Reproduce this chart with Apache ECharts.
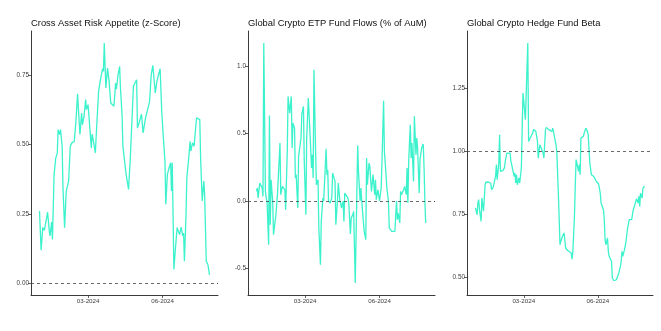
<!DOCTYPE html>
<html>
<head>
<meta charset="utf-8">
<script src="https://cdn.jsdelivr.net/npm/echarts@6/dist/echarts.min.js"></script>
<style>
html,body{margin:0;padding:0;background:#fff;}
#chart{width:661px;height:331px;}
</style>
</head>
<body>
<div id="chart"></div>
<script>
// Panel titles
const titles = ['Cross Asset Risk Appetite (z-Score)', 'Global Crypto ETP Fund Flows (% of AuM)', 'Global Crypto Hedge Fund Beta'];

// x tick labels (dates) and reference lines
const xTickDates = ['2024-03-01', '2024-06-01'];
const refLines = [0, 0, 1];

// y tick values per panel
const riskTicks = [0, 0.25, 0.5, 0.75];
const flowTicks = [-0.5, 0, 0.5, 1.0];
const betaTicks = [0.5, 0.75, 1.0, 1.25];

// Cross Asset Risk Appetite: days since 2024-01-01 and values
const riskDays = [0,2,4,6,8,10,12,13,15,16,18,20,22,23,25,26,28,29,31,33,35,36,38,40,43,45,47,48,50,52,53,55,57,58,60,62,64,65,67,69,71,73,75,76,78,79,80,82,84,86,88,90,92,94,95,97,99,100,102,103,105,107,109,110,112,114,116,118,120,121,123,126,128,129,131,133,136,138,140,143,145,147,149,151,153,155,156,158,160,162,163,164,166,168,170,172,173,175,177,178,179,181,182,184,186,187,189,191,192,194,196,198,199,201,203,204,206,208,210];
const riskValues = [0.26,0.118,0.20,0.19,0.196,0.256,0.19,0.17,0.22,0.157,0.39,0.45,0.47,0.554,0.536,0.554,0.494,0.344,0.20,0.33,0.356,0.368,0.494,0.506,0.512,0.584,0.683,0.632,0.536,0.614,0.572,0.602,0.662,0.626,0.644,0.642,0.488,0.538,0.506,0.47,0.584,0.692,0.728,0.746,0.774,0.764,0.867,0.704,0.776,0.728,0.65,0.647,0.638,0.722,0.70,0.752,0.782,0.704,0.606,0.494,0.488,0.392,0.356,0.338,0.44,0.572,0.71,0.722,0.734,0.56,0.578,0.61,0.542,0.56,0.596,0.62,0.656,0.752,0.786,0.686,0.728,0.752,0.774,0.62,0.524,0.44,0.284,0.392,0.416,0.434,0.332,0.434,0.049,0.127,0.20,0.202,0.175,0.202,0.17,0.18,0.079,0.248,0.38,0.44,0.512,0.476,0.506,0.494,0.53,0.596,0.602,0.59,0.452,0.296,0.368,0.32,0.079,0.067,0.029];

// Global Crypto ETP Fund Flows (% of AuM)
const flowDays = [0,1,2,4,5,7,8,9,11,12,13,15,16,17,18,20,21,22,24,26,29,30,32,33,35,36,38,39,41,43,44,45,47,48,49,51,52,53,55,56,58,59,61,62,64,66,68,69,70,71,73,74,76,77,79,80,82,83,84,86,87,88,89,91,93,94,95,97,98,100,101,103,104,105,107,108,109,111,113,114,116,117,119,120,122,125,126,128,129,130,132,133,135,136,137,139,140,141,142,144,145,146,147,148,150,151,152,154,155,157,158,160,161,163,164,166,167,169,171,172,173,174,175,177,178,179,181,182,183,185,186,187,188,190,191,192,194,195,197,198,199,201,202,204,206,207,208,209];
const flowValues = [0.072,0.097,0.022,0.134,0.121,0.097,0.035,1.173,0.072,0.022,0.0,-0.324,0.636,-0.176,0.158,0.0,-0.25,-0.255,-0.10,0.059,0.431,0.047,0.109,0.097,0.084,-0.064,0.369,0.777,0.653,0.777,0.394,0.579,0.542,0.171,0.196,-0.052,0.332,0.344,0.468,0.646,0.703,0.295,-0.101,0.468,0.765,0.517,0.245,0.344,0.171,0.975,0.369,0.121,0.158,-0.2,-0.473,-0.151,0.022,0.0,0.01,0.389,0.196,0.233,0.0,-0.015,0.022,0.208,0.22,0.146,-0.176,0.0,0.134,0.0,-0.015,-0.052,0.0,-0.151,0.059,0.047,0.022,-0.015,-0.245,-0.126,-0.101,-0.077,-0.609,0.413,0.22,0.0,0.097,0.0,-0.151,-0.225,-0.287,0.319,0.121,0.282,0.257,0.27,0.072,0.196,0.121,0.047,0.158,0.01,0.084,0.097,0.0,0.097,0.295,0.745,0.369,0.196,0.097,0.0,-0.2,-0.213,-0.225,-0.23,-0.225,-0.101,0.0,-0.139,-0.089,-0.163,0.072,0.047,0.072,0.084,0.109,0.047,0.245,-0.015,0.295,0.567,0.319,0.431,0.146,0.629,0.344,0.468,0.394,0.059,0.307,0.394,0.423,0.245,0.0,-0.163];

// Global Crypto Hedge Fund Beta
const betaDays = [0,2,3,4,5,7,8,9,10,12,13,14,16,18,19,20,22,23,25,26,27,29,30,31,32,34,36,37,39,40,41,43,44,45,46,48,49,50,51,52,54,55,56,57,59,60,62,63,64,65,66,68,69,71,72,74,75,77,78,80,81,82,84,85,87,88,90,91,93,95,96,97,98,100,101,103,105,106,108,110,111,112,114,115,117,119,120,121,123,124,125,126,128,129,130,131,132,134,135,137,138,139,140,142,143,144,146,147,148,150,151,153,154,155,156,158,159,160,161,162,164,165,166,167,169,170,171,172,173,175,176,177,178,180,181,182,183,185,186,187,188,189,191,192,194,195,196,198,199,200,202,203,204,205,207,208,210];
const betaValues = [0.774,0.747,0.794,0.807,0.767,0.721,0.813,0.787,0.761,0.866,0.876,0.873,0.877,0.873,0.872,0.847,0.856,0.849,0.899,0.946,0.886,0.952,1.065,0.919,0.926,0.922,0.933,0.959,0.992,0.999,0.988,0.992,0.959,0.946,0.939,0.899,0.913,0.873,0.906,0.866,0.893,0.873,0.866,0.933,1.230,1.197,1.124,1.224,1.329,1.429,1.038,1.052,1.058,1.071,1.085,1.085,1.078,1.038,0.972,1.025,1.019,1.032,0.992,0.972,1.085,1.094,1.094,1.085,1.091,1.078,1.091,1.098,1.091,1.025,0.999,0.827,0.628,0.642,0.661,0.675,0.648,0.615,0.608,0.604,0.599,0.595,0.571,0.602,0.747,0.866,0.966,0.959,0.919,0.946,0.906,1.052,1.058,1.058,1.071,1.091,1.085,1.078,1.065,0.952,0.946,0.906,0.899,0.899,0.893,0.880,0.873,0.869,0.866,0.833,0.794,0.787,0.767,0.728,0.648,0.628,0.655,0.602,0.582,0.575,0.562,0.496,0.493,0.485,0.489,0.489,0.483,0.489,0.516,0.542,0.562,0.602,0.582,0.608,0.622,0.642,0.642,0.695,0.728,0.721,0.728,0.734,0.767,0.787,0.787,0.811,0.794,0.820,0.780,0.833,0.813,0.853,0.860];

const DAY = 86400000;
const T0 = Date.UTC(2024, 0, 1);
const toTs = d => T0 + d * DAY;
const pairs = (days, vals) => days.map((d, i) => [toTs(d), vals[i]]);

const xMin = toTs(-10.5), xMax = toTs(220.5);
const xTicks = xTickDates.map(s => Date.parse(s + 'T00:00:00Z'));
const pad = n => (n < 10 ? '0' : '') + n;
const fmtDate = v => { const d = new Date(v); return pad(d.getUTCMonth() + 1) + '-' + d.getUTCFullYear(); };

const lineColor = '#3CF2CC';
const axisColor = '#3a3a3a';
const labelColor = '#3d3d3d';
const FONT = 'Liberation Sans, Arial, sans-serif';

const grids = [
  {left: 31, top: 31, width: 187, height: 264},
  {left: 248, top: 31, width: 187, height: 264},
  {left: 467, top: 31, width: 186, height: 264}
];
const yRanges = [[-0.0434, 0.910], [-0.698, 1.263], [0.4285, 1.4765]];
const yTickSets = [riskTicks, flowTicks, betaTicks];
const yFormat = [v => v.toFixed(2), v => v.toFixed(1), v => v.toFixed(2)];
const seriesData = [pairs(riskDays, riskValues), pairs(flowDays, flowValues), pairs(betaDays, betaValues)];

const option = {
  backgroundColor: '#fff',
  animation: false,
  title: titles.map((t, i) => ({
    text: t, left: grids[i].left, top: 17, padding: 0,
    textStyle: {fontFamily: FONT, fontSize: 9.4, fontWeight: 'normal', color: '#111', lineHeight: 12}
  })),
  grid: grids,
  xAxis: grids.map((g, i) => ({
    type: 'value', gridIndex: i, min: xMin, max: xMax, scale: true,
    axisLine: {show: true, onZero: false, lineStyle: {color: axisColor, width: 1}},
    axisTick: {show: true, length: 3, customValues: xTicks, lineStyle: {color: axisColor, width: 0.8}},
    axisLabel: {customValues: xTicks, formatter: fmtDate, fontFamily: FONT, fontSize: 6.2, color: labelColor, margin: 3},
    splitLine: {show: false}
  })),
  yAxis: grids.map((g, i) => ({
    type: 'value', gridIndex: i, min: yRanges[i][0], max: yRanges[i][1],
    axisLine: {show: true, onZero: false, lineStyle: {color: axisColor, width: 1}},
    axisTick: {show: true, length: 3, customValues: yTickSets[i], lineStyle: {color: axisColor, width: 0.8}},
    axisLabel: {customValues: yTickSets[i], formatter: yFormat[i], fontFamily: FONT, fontSize: 6.4, color: labelColor, margin: 2},
    splitLine: {show: false}
  })),
  series: seriesData.map((d, i) => ({
    type: 'line', xAxisIndex: i, yAxisIndex: i, data: d,
    showSymbol: false, symbol: 'none',
    lineStyle: {color: lineColor, width: 1.3},
    markLine: {
      silent: true, symbol: 'none', label: {show: false},
      lineStyle: {color: '#444', type: [3, 3], width: 0.8},
      data: [{yAxis: refLines[i]}]
    }
  }))
};

const chart = echarts.init(document.getElementById('chart'), null, {renderer: 'canvas'});
chart.setOption(option);
</script>
</body>
</html>
